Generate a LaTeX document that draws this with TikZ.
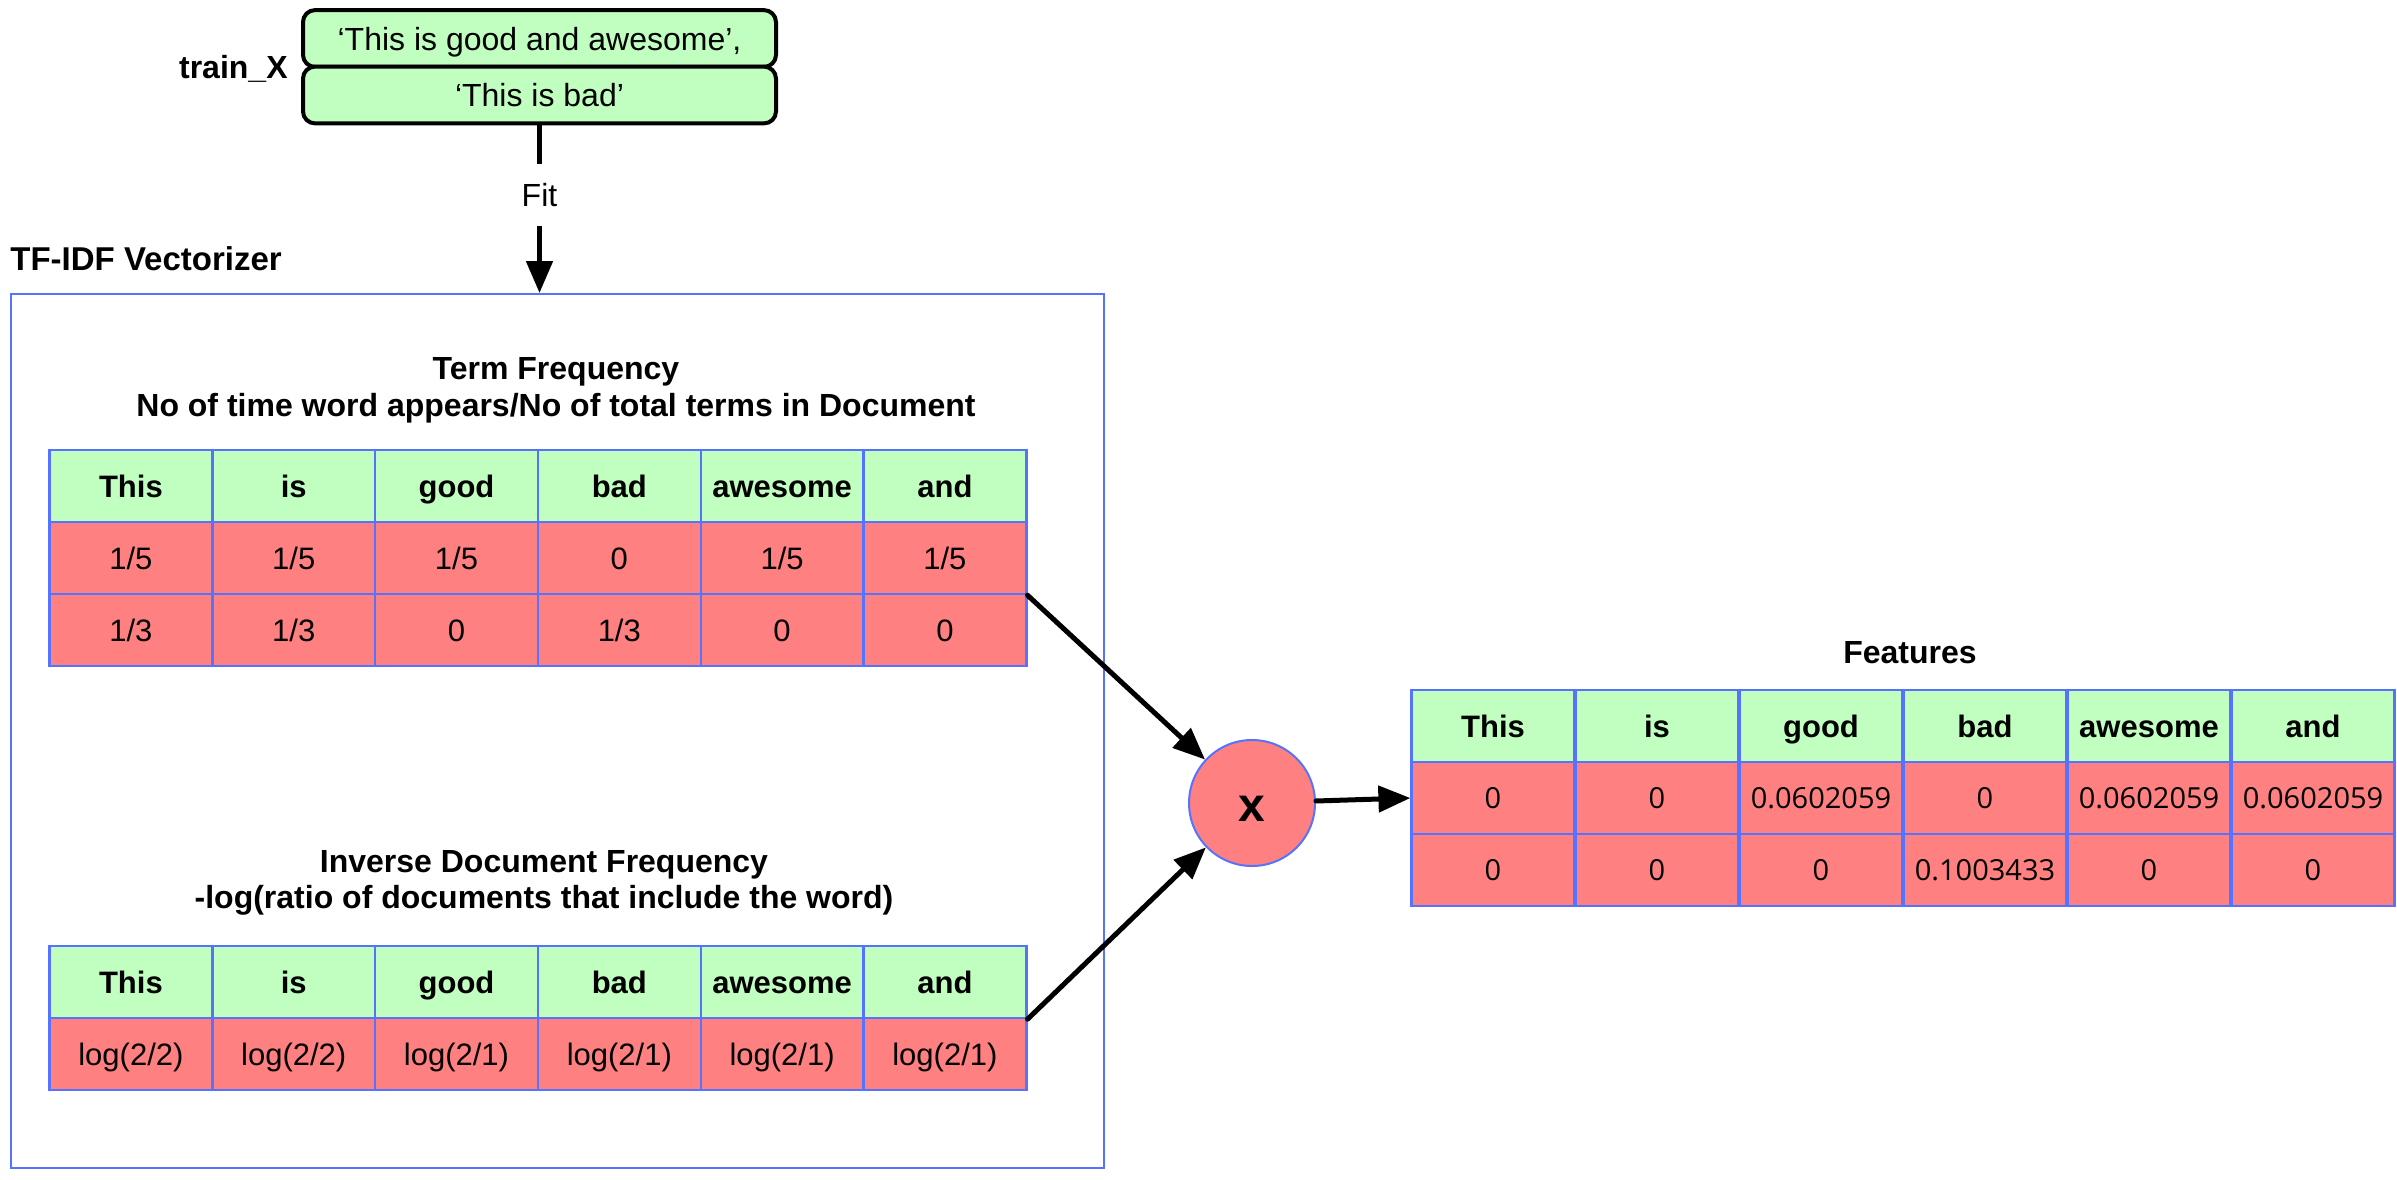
\documentclass[tikz,border=0pt]{standalone}
\usepackage{fontspec}
\setmainfont{Liberation Sans}
\newfontfamily\numfont{Open Sans}
\usetikzlibrary{arrows.meta}
\definecolor{cgreen}{RGB}{192,255,192}
\definecolor{cred}{RGB}{255,128,128}
\definecolor{cblue}{RGB}{85,115,255}
\tikzset{
  cell/.style={draw=cblue, line width=1.2pt, minimum width=81.4pt, minimum height=36pt,
    inner sep=0pt, font=\fontsize{15.5}{18}\selectfont, text height=11.1pt, text depth=0pt},
  hcell/.style={cell, fill=cgreen, font=\fontsize{15.5}{18}\selectfont\bfseries},
  vcell/.style={cell, fill=cred},
  fcell/.style={cell, fill=cred, font=\numfont\fontsize{14.5}{17}\selectfont, text height=10.3pt},
  titletext/.style={font=\fontsize{16}{19}\selectfont\bfseries, inner sep=0pt, text height=11.5pt, text depth=0pt},
  conn/.style={line width=2.5pt, line cap=round, -{Triangle[length=16pt,width=13pt]}},
  sentbox/.style={draw=black, line width=2pt, fill=cgreen, rounded corners=6pt,
    minimum width=236.5pt, minimum height=28.4pt, inner sep=0pt,
    font=\fontsize{16}{19}\selectfont, text height=11.5pt, text depth=0pt},
}
\begin{document}
\begin{tikzpicture}[x=0.5pt,y=-0.5pt]
\useasboundingbox (0,0) rectangle (2397,1179);

% input sentences
\node[sentbox] (s1) at (539.5,38.5) {‘This is good and awesome’,};
\node[sentbox] (s2) at (539.5,95) {‘This is bad’};
\node[titletext, anchor=east] (trainx) at (288,67) {train\_X};

% vectorizer box
\node[draw=cblue, line width=1pt, minimum width=546.5pt, minimum height=437pt, inner sep=0pt] (vec) at (557.5,731) {};
\node[titletext, font=\fontsize{16.5}{19}\selectfont\bfseries, text height=11.8pt, anchor=west] (veclabel) at (10,259) {TF-IDF Vectorizer};

% titles
\node[titletext] (tft1) at (556,368) {Term Frequency};
\node[titletext] (tft2) at (556,405) {No of time word appears/No of total terms in Document};
\node[titletext] (idft1) at (544,861) {Inverse Document Frequency};
\node[titletext] (idft2) at (544,897) {-log(ratio of documents that include the word)};
\node[titletext] (ftt) at (1910,652) {Features};

% TF table
\foreach \w [count=\i] in {This,is,good,bad,awesome,and}
  \node[hcell] (tf-h-\i) at ({49.5+162.8*(\i-0.5)},486) {\w};
\foreach \w [count=\i] in {1/5,1/5,1/5,0,1/5,1/5}
  \node[vcell] (tf-r1-\i) at ({49.5+162.8*(\i-0.5)},558) {\w};
\foreach \w [count=\i] in {1/3,1/3,0,1/3,0,0}
  \node[vcell] (tf-r2-\i) at ({49.5+162.8*(\i-0.5)},630) {\w};

% IDF table
\foreach \w [count=\i] in {This,is,good,bad,awesome,and}
  \node[hcell] (idf-h-\i) at ({49.5+162.8*(\i-0.5)},982) {\w};
\foreach \w [count=\i] in {log(2/2),log(2/2),log(2/1),log(2/1),log(2/1),log(2/1)}
  \node[vcell] (idf-r1-\i) at ({49.5+162.8*(\i-0.5)},1054) {\w};

% Features table
\foreach \w [count=\i] in {This,is,good,bad,awesome,and}
  \node[hcell] (ft-h-\i) at ({1411+164*(\i-0.5)},726) {\w};
\foreach \w [count=\i] in {0,0,0.0602059,0,0.0602059,0.0602059}
  \node[fcell] (ft-r1-\i) at ({1411+164*(\i-0.5)},798) {\w};
\foreach \w [count=\i] in {0,0,0,0.1003433,0,0}
  \node[fcell] (ft-r2-\i) at ({1411+164*(\i-0.5)},870) {\w};

% multiply node
\node[circle, draw=cblue, line width=1pt, fill=cred, minimum size=63pt, inner sep=0pt,
  font=\fontsize{24}{26}\selectfont\bfseries, text height=18.2pt, text depth=0pt] (mult) at (1252,803) {x};

% connectors
\draw[conn] (s2.south) -- node[pos=0.418, fill=white, minimum height=31pt, inner xsep=4pt,
  font=\fontsize{16}{19}\selectfont, text height=11.5pt, text depth=0pt] (fit) {Fit} (vec.north -| s2.south);
\draw[conn] (tf-r1-6.south east) -- (mult);
\draw[conn] (idf-h-6.south east) -- (mult);
\draw[conn] (mult) -- (ft-r1-1.west);
\end{tikzpicture}
\end{document}
